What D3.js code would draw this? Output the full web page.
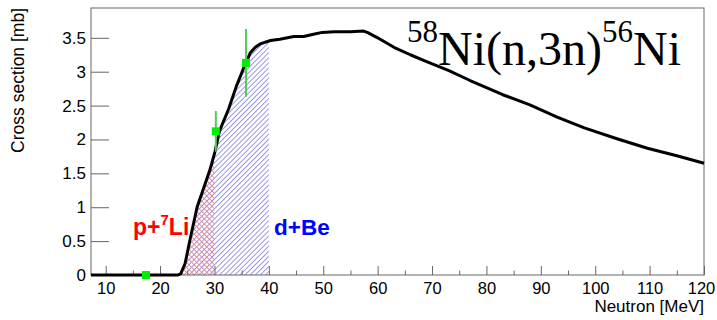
<!DOCTYPE html>
<html>
<head>
<meta charset="utf-8">
<script src="https://cdn.jsdelivr.net/npm/d3@7"></script>
<style>
  body { margin: 0; background: #fff; }
  svg { display: block; }
  text { font-family: "Liberation Sans", Arial, sans-serif; }
</style>
</head>
<body>
<svg id="chart" width="717" height="320"></svg>
<script>
// excitation curve for 58Ni(n,3n)56Ni
const curveE  = [7.3, 23.3, 23.8, 24.6, 25.5, 26.8, 28.0, 29.2, 30.1, 30.9, 32.6, 34.0, 35.5, 36.6, 37.5, 38.4, 40.3, 42.0, 44.6, 46.4, 48.0, 49.8, 52.0, 55.0, 57.4, 58.1, 60.0, 63.0, 66.0, 69.0, 73.0, 77.0, 83.0, 88.0, 93.0, 98.0, 104.0, 109.6, 115.0, 120.0];
const curveXS = [0, 0, 0.02, 0.17, 0.52, 1.0, 1.28, 1.56, 1.82, 2.12, 2.45, 2.78, 3.08, 3.28, 3.36, 3.41, 3.46, 3.48, 3.52, 3.52, 3.55, 3.58, 3.59, 3.59, 3.60, 3.58, 3.50, 3.36, 3.25, 3.15, 3.02, 2.87, 2.66, 2.51, 2.33, 2.17, 2.01, 1.87, 1.76, 1.65];

// measured points
const pointE   = [17.4, 30.25, 35.8];
const pointXS  = [0, 2.12, 3.13];
const pointErr = [0, 0.30, 0.50];

// neutron source ranges
const sourceNames = ["p+Li", "d+Be"];
const sourceLo = [20, 20];
const sourceHi = [30, 40];

const xTicksMajor = [10, 20, 30, 40, 50, 60, 70, 80, 90, 100, 110, 120];
const xTicksMinor = [15, 25, 35, 45, 55, 65, 75, 85, 95, 105, 115];
const yTicks = [0, 0.5, 1, 1.5, 2, 2.5, 3, 3.5];

const svg = d3.select("#chart");
const L = 91, R = 704, T = 8, B = 275;

const x = d3.scaleLinear().domain([7.3, 120]).range([L, R]);
const y = d3.scaleLinear().domain([0, 3.94]).range([B, T]);

const curveData = curveE.map((e, i) => ({e: e, v: curveXS[i]}));

// hatch patterns
const defs = svg.append("defs");
function hatch(id, angle, color) {
  const p = defs.append("pattern")
    .attr("id", id)
    .attr("patternUnits", "userSpaceOnUse")
    .attr("width", 3.6).attr("height", 3.6)
    .attr("patternTransform", `rotate(${angle})`);
  p.append("line")
    .attr("x1", 0.5).attr("y1", 0).attr("x2", 0.5).attr("y2", 3.6)
    .attr("stroke", color).attr("stroke-width", 0.9);
}
hatch("hatchBlue", 45, "#8c8ce6");
hatch("hatchRed", -45, "#f08080");

const area = d3.area()
  .x(d => x(d.e))
  .y0(y(0))
  .y1(d => y(d.v));

// d+Be first (blue), then p+Li (red) on top of it
[1, 0].forEach(i => {
  const cid = "clip" + i;
  defs.append("clipPath").attr("id", cid)
    .append("rect")
    .attr("x", x(sourceLo[i])).attr("y", T)
    .attr("width", x(sourceHi[i]) - x(sourceLo[i]))
    .attr("height", B - T);
  svg.append("path")
    .datum(curveData)
    .attr("clip-path", `url(#${cid})`)
    .attr("fill", i === 0 ? "url(#hatchRed)" : "url(#hatchBlue)")
    .attr("d", area);
});

// frame
svg.append("rect")
  .attr("x", L).attr("y", T)
  .attr("width", R - L).attr("height", B - T)
  .attr("fill", "none")
  .attr("stroke", "#666").attr("stroke-width", 1);

// x axis ticks (ROOT style, inside)
const gx = svg.append("g").attr("transform", `translate(0,${B})`);
gx.call(d3.axisBottom(x).tickValues(xTicksMajor).tickSize(-9).tickFormat(d3.format("d")));
gx.append("g").call(d3.axisBottom(x).tickValues(xTicksMinor).tickSize(-4.5).tickFormat(""));
gx.selectAll(".domain").remove();
gx.selectAll("line").attr("stroke", "#666");
gx.selectAll("text")
  .attr("y", 19).attr("dy", 0)
  .attr("fill", "#000")
  .style("font-size", "16.5px");
// last label sits at the window edge, nudge it in a little
gx.selectAll(".tick text").filter(d => d === 120).attr("x", -3);

const gy = svg.append("g").attr("transform", `translate(${L},0)`);
gy.call(d3.axisLeft(y).tickValues(yTicks).tickSize(-18).tickFormat(d3.format("")));
gy.selectAll(".domain").remove();
gy.selectAll("line").attr("stroke", "#666");
gy.selectAll("text")
  .attr("x", -5)
  .attr("fill", "#000")
  .style("font-size", "17px");

// axis titles
svg.append("text")
  .attr("x", R).attr("y", 312)
  .attr("text-anchor", "end")
  .style("font-size", "17px")
  .text("Neutron [MeV]");

svg.append("text")
  .attr("transform", `translate(24,${T}) rotate(-90)`)
  .attr("text-anchor", "end")
  .style("font-size", "17.5px")
  .text("Cross section [mb]");

// curve
const line = d3.line().x(d => x(d.e)).y(d => y(d.v));
svg.append("path")
  .datum(curveData)
  .attr("fill", "none")
  .attr("stroke", "#000")
  .attr("stroke-width", 3)
  .attr("stroke-linejoin", "round")
  .attr("d", line);

// measured points with error bars
const pts = pointE.map((e, i) => ({e: e, v: pointXS[i], err: pointErr[i]}));
svg.selectAll(".err")
  .data(pts.filter(d => d.err > 0))
  .enter().append("line")
  .attr("x1", d => x(d.e)).attr("x2", d => x(d.e))
  .attr("y1", d => y(d.v - d.err)).attr("y2", d => y(d.v + d.err))
  .attr("stroke", "#55cc55").attr("stroke-width", 2);
svg.selectAll(".pt")
  .data(pts)
  .enter().append("rect")
  .attr("x", d => x(d.e) - 4).attr("y", d => y(d.v) - 4)
  .attr("width", 8).attr("height", 8)
  .attr("fill", "#00ee00");

// source labels
const lab1 = svg.append("text")
  .attr("x", 133).attr("y", 235)
  .attr("fill", "#ff0000")
  .style("font-size", "23px").style("font-weight", "bold");
lab1.append("tspan").text("p+");
lab1.append("tspan").attr("dy", -10).style("font-size", "15px").text("7");
lab1.append("tspan").attr("dy", 10).text("Li");

svg.append("text")
  .attr("x", 274).attr("y", 235)
  .attr("fill", "#0000ff")
  .style("font-size", "22.5px").style("font-weight", "bold")
  .text("d+Be");

// reaction title
const title = svg.append("text")
  .attr("x", 407).attr("y", 65)
  .style("font-family", "'Liberation Serif', 'Times New Roman', serif")
  .style("font-size", "48px")
  .attr("fill", "#000");
title.append("tspan").attr("dy", -23).style("font-size", "31px").text("58");
title.append("tspan").attr("dy", 23).text("Ni(n,3n)");
title.append("tspan").attr("dy", -23).style("font-size", "31px").text("56");
title.append("tspan").attr("dy", 23).text("Ni");
</script>
</body>
</html>
